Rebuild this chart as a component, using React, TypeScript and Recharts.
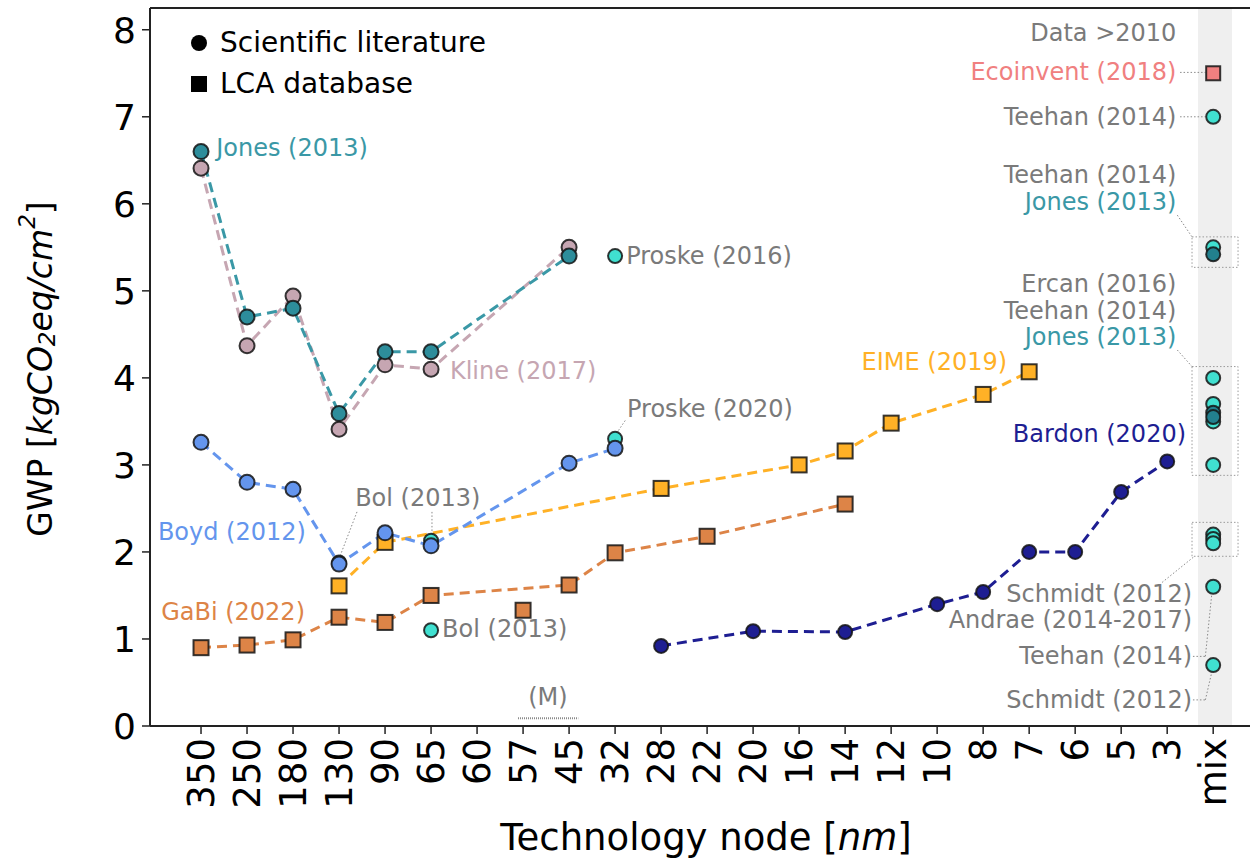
import React from "react";
import {
  ComposedChart,
  Line,
  Scatter,
  XAxis,
  YAxis,
  ReferenceArea,
  ReferenceLine,
  ReferenceDot,
} from "recharts";

const nodes = ["350", "250", "180", "130", "90", "65", "60", "57", "45", "32", "28", "22", "20", "16", "14", "12", "10", "8", "7", "6", "5", "3", "mix"];
const yTicks = [0, 1, 2, 3, 4, 5, 6, 7, 8];

const jonesNodes = ["350", "250", "180", "130", "90", "65", "45"];
const jonesValues = [6.6, 4.7, 4.8, 3.59, 4.3, 4.3, 5.4];
const klineNodes = ["350", "250", "180", "130", "90", "65", "45"];
const klineValues = [6.41, 4.37, 4.94, 3.41, 4.15, 4.1, 5.5];
const boydNodes = ["350", "250", "180", "130", "90", "65", "45", "32"];
const boydValues = [3.26, 2.8, 2.72, 1.86, 2.22, 2.07, 3.02, 3.19];
const eimeNodes = ["130", "90", "28", "16", "14", "12", "8", "7"];
const eimeValues = [1.61, 2.11, 2.73, 3.0, 3.16, 3.48, 3.81, 4.07];
const gabiNodes = ["350", "250", "180", "130", "90", "65", "45", "32", "22", "14"];
const gabiValues = [0.9, 0.93, 0.99, 1.25, 1.19, 1.5, 1.62, 1.99, 2.18, 2.55];
const gabiMNodes = ["57"];
const gabiMValues = [1.33];
const bardonNodes = ["28", "20", "14", "10", "8", "7", "6", "5", "3"];
const bardonValues = [0.92, 1.09, 1.08, 1.4, 1.54, 2.0, 2.0, 2.69, 3.04];
// single studies (Bol, Proske, Teehan, Schmidt, Ercan, Andrae ...)
const otherNodes = ["130", "65", "65", "32", "32", "mix", "mix", "mix", "mix", "mix", "mix", "mix", "mix", "mix", "mix", "mix"];
const otherValues = [1.88, 2.13, 1.1, 5.4, 3.3, 7.0, 5.5, 4.0, 3.7, 3.5, 3.0, 2.2, 2.15, 2.1, 1.6, 0.7];
const jonesMixNodes = ["mix", "mix", "mix"];
const jonesMixValues = [5.42, 3.6, 3.55];
const ecoinventNodes = ["mix"];
const ecoinventValues = [7.5];

const TURQ = "#40E0D0";
const GRAY = "#7a7a7a";
const JONES = "#3a98a6";
const KLINE = "#c6a6b2";
const BOYD = "#6495ED";
const EIME = "#ffb126";
const GABI = "#dd8447";
const BARDON = "#1e1e92";
const ECO = "#F08080";
const FONT = "DejaVu Sans, sans-serif";

const pts = (ns: string[], vs: number[]) => ns.map((n, i) => ({ x: nodes.indexOf(n), y: vs[i] }));

// annotation texts, anchored in data coordinates
const notes = [
  { x: 0.33, y: 6.64, text: "Jones (2013)", color: JONES, anchor: "start" },
  { x: 5.41, y: 4.08, text: "Kline (2017)", color: KLINE, anchor: "start" },
  { x: 9.24, y: 5.4, text: "Proske (2016)", color: GRAY, anchor: "start" },
  { x: 9.26, y: 3.64, text: "Proske (2020)", color: GRAY, anchor: "start" },
  { x: 2.28, y: 2.23, text: "Boyd (2012)", color: BOYD, anchor: "end" },
  { x: 3.35, y: 2.62, text: "Bol (2013)", color: GRAY, anchor: "start" },
  { x: 2.26, y: 1.31, text: "GaBi (2022)", color: GABI, anchor: "end" },
  { x: 5.24, y: 1.11, text: "Bol (2013)", color: GRAY, anchor: "start" },
  { x: 17.52, y: 4.18, text: "EIME (2019)", color: EIME, anchor: "end" },
  { x: 21.41, y: 3.35, text: "Bardon (2020)", color: BARDON, anchor: "end" },
  { x: 7.54, y: 0.33, text: "(M)", color: GRAY, anchor: "middle" },
  { x: 21.2, y: 7.96, text: "Data >2010", color: GRAY, anchor: "end" },
  { x: 21.2, y: 7.51, text: "Ecoinvent (2018)", color: ECO, anchor: "end" },
  { x: 21.2, y: 7.0, text: "Teehan (2014)", color: GRAY, anchor: "end" },
  { x: 21.2, y: 6.33, text: "Teehan (2014)", color: GRAY, anchor: "end" },
  { x: 21.2, y: 6.02, text: "Jones (2013)", color: JONES, anchor: "end" },
  { x: 21.2, y: 5.08, text: "Ercan (2016)", color: GRAY, anchor: "end" },
  { x: 21.2, y: 4.77, text: "Teehan (2014)", color: GRAY, anchor: "end" },
  { x: 21.2, y: 4.47, text: "Jones (2013)", color: JONES, anchor: "end" },
  { x: 21.54, y: 1.52, text: "Schmidt (2012)", color: GRAY, anchor: "end" },
  { x: 21.54, y: 1.22, text: "Andrae (2014-2017)", color: GRAY, anchor: "end" },
  { x: 21.54, y: 0.8, text: "Teehan (2014)", color: GRAY, anchor: "end" },
  { x: 21.54, y: 0.3, text: "Schmidt (2012)", color: GRAY, anchor: "end" },
];

const leaders = [
  [[21.28, 7.51], [21.83, 7.51]],
  [[21.28, 7.0], [21.83, 7.0]],
  [[21.22, 5.87], [21.54, 5.62]],
  [[21.22, 4.32], [21.54, 4.13]],
  [[20.89, 1.65], [21.57, 1.94]],
  [[21.56, 0.8], [21.83, 0.8]],
  [[21.83, 0.8], [21.97, 1.52]],
  [[21.56, 0.3], [21.83, 0.3]],
  [[21.83, 0.3], [21.97, 0.62]],
  [[9.22, 3.51], [9.04, 3.37]],
  [[3.39, 2.46], [3.02, 1.95]],
  [[5.02, 2.46], [5.02, 2.16]],
  [[6.89, 0.09], [8.2, 0.09]],
];

const boxes = [
  { x1: 21.54, x2: 22.54, y1: 5.27, y2: 5.62 },
  { x1: 21.54, x2: 22.54, y1: 2.88, y2: 4.13 },
  { x1: 21.54, x2: 22.54, y1: 1.95, y2: 2.34 },
];

const EDGE = "rgba(20,20,20,0.85)";
const DASH = "10 6";

const circleDot = (fill: string, r = 7.5) => (p: any) => (
  <circle key={`c-${p.index}`} cx={p.cx} cy={p.cy} r={r} fill={fill} stroke={EDGE} strokeWidth={2} />
);
const squareDot = (fill: string, s = 15) => (p: any) => (
  <rect key={`s-${p.index}`} x={p.cx - s / 2} y={p.cy - s / 2} width={s} height={s} fill={fill} stroke={EDGE} strokeWidth={2} />
);

function NodeTick({ x, y, payload }: any) {
  return (
    <text
      x={x}
      y={y}
      transform={`rotate(-90 ${x} ${y})`}
      textAnchor="end"
      dominantBaseline="central"
      fontSize={37}
      fontFamily={FONT}
      fill="#000"
    >
      {nodes[payload.value]}
    </text>
  );
}

function XTitle({ viewBox }: any) {
  const cx = viewBox.x + viewBox.width / 2 + 6;
  return (
    <text x={cx} y={viewBox.y + 111} textAnchor="middle" dominantBaseline="central" fontSize={37} fontFamily={FONT} fill="#000">
      Technology node [<tspan fontStyle="italic">nm</tspan>]
    </text>
  );
}

function YTitle({ viewBox }: any) {
  const cy = viewBox.y + viewBox.height / 2 + 2;
  const cx = 40;
  return (
    <text x={cx} y={cy} transform={`rotate(-90 ${cx} ${cy})`} textAnchor="middle" dominantBaseline="central" fontSize={33} fontFamily={FONT} fill="#000">
      GWP [<tspan fontStyle="italic">kgCO</tspan>
      <tspan fontSize={23} dy={7} fontStyle="italic">2</tspan>
      <tspan dy={-7} fontStyle="italic">eq/cm</tspan>
      <tspan fontSize={23} dy={-13} fontStyle="italic">2</tspan>
      <tspan dy={13}>]</tspan>
    </text>
  );
}

function LegendBox() {
  return (
    <div style={{ position: "absolute", left: 188, top: 22, fontFamily: FONT, fontSize: 28, color: "#000", lineHeight: "41px" }}>
      <div style={{ display: "flex", alignItems: "center" }}>
        <svg width={24} height={24} style={{ marginRight: 8 }}>
          <circle cx={11} cy={12} r={8} fill="#000" />
        </svg>
        Scientific literature
      </div>
      <div style={{ display: "flex", alignItems: "center" }}>
        <svg width={24} height={24} style={{ marginRight: 8 }}>
          <rect x={3} y={4} width={16} height={16} fill="#000" />
        </svg>
        LCA database
      </div>
    </div>
  );
}

export default function App() {
  return (
    <div style={{ position: "absolute", left: 0, top: 0, width: 1250, height: 858, background: "#fff" }}>
      <ComposedChart width={1250} height={858} margin={{ top: 8, right: 0, bottom: 0, left: 0 }}>
        <ReferenceArea x1={21.67} x2={22.41} y1={0} y2={8.25} fill="#efefef" fillOpacity={1} stroke="none" />
        <XAxis
          dataKey="x"
          type="number"
          domain={[-1.109, 22.8]}
          ticks={nodes.map((_, i) => i)}
          allowDataOverflow
          height={132}
          tickSize={8}
          tickMargin={4}
          tick={<NodeTick />}
          tickLine={{ stroke: "#222", strokeWidth: 1.5 }}
          axisLine={{ stroke: "#222", strokeWidth: 2 }}
          label={<XTitle />}
        />
        <YAxis
          dataKey="y"
          type="number"
          domain={[0, 8.25]}
          ticks={yTicks}
          allowDataOverflow
          width={150}
          tickSize={8}
          tickMargin={6}
          tick={{ fontSize: 36, fontFamily: FONT, fill: "#000" }}
          tickLine={{ stroke: "#222", strokeWidth: 1.5 }}
          axisLine={{ stroke: "#222", strokeWidth: 2 }}
          label={<YTitle />}
        />
        <ReferenceLine y={8.25} stroke="#222" strokeWidth={2} ifOverflow="visible" />
        {boxes.map((b, i) => (
          <ReferenceArea key={`b${i}`} {...b} fill="none" stroke="#9a9a9a" strokeDasharray="1.5 2" strokeWidth={1} />
        ))}
        {leaders.map((s, i) => (
          <ReferenceLine
            key={`l${i}`}
            segment={[{ x: s[0][0], y: s[0][1] }, { x: s[1][0], y: s[1][1] }]}
            stroke="#8a8a8a"
            strokeDasharray={i === leaders.length - 1 ? "1 1" : "1.5 2"}
            strokeWidth={i === leaders.length - 1 ? 2 : 1}
          />
        ))}
        <Line data={pts(klineNodes, klineValues)} dataKey="y" stroke={KLINE} strokeWidth={3} strokeDasharray={DASH} dot={circleDot(KLINE)} activeDot={false} isAnimationActive={false} />
        <Line data={pts(jonesNodes, jonesValues)} dataKey="y" stroke={JONES} strokeWidth={3} strokeDasharray={DASH} dot={circleDot("#2d8d9b")} activeDot={false} isAnimationActive={false} />
        <Scatter data={pts(otherNodes, otherValues)} dataKey="y" shape={circleDot(TURQ, 7)} isAnimationActive={false} />
        <Scatter data={pts(jonesMixNodes, jonesMixValues)} dataKey="y" shape={circleDot("#22808e", 7)} isAnimationActive={false} />
        <Line data={pts(gabiNodes, gabiValues)} dataKey="y" stroke={GABI} strokeWidth={3} strokeDasharray={DASH} dot={squareDot(GABI)} activeDot={false} isAnimationActive={false} />
        <Scatter data={pts(gabiMNodes, gabiMValues)} dataKey="y" shape={squareDot(GABI)} isAnimationActive={false} />
        <Line data={pts(eimeNodes, eimeValues)} dataKey="y" stroke={EIME} strokeWidth={3} strokeDasharray={DASH} dot={squareDot(EIME)} activeDot={false} isAnimationActive={false} />
        <Line data={pts(boydNodes, boydValues)} dataKey="y" stroke={BOYD} strokeWidth={3} strokeDasharray={DASH} dot={circleDot(BOYD)} activeDot={false} isAnimationActive={false} />
        <Line data={pts(bardonNodes, bardonValues)} dataKey="y" stroke={BARDON} strokeWidth={3} strokeDasharray={DASH} dot={circleDot(BARDON, 7)} activeDot={false} isAnimationActive={false} />
        <Scatter data={pts(ecoinventNodes, ecoinventValues)} dataKey="y" shape={squareDot(ECO, 14)} isAnimationActive={false} />
        {notes.map((n, i) => (
          <ReferenceDot
            key={`n${i}`}
            x={n.x}
            y={n.y}
            r={0}
            shape={(p: any) => (
              <text x={p.cx} y={p.cy} textAnchor={n.anchor as any} dominantBaseline="central" fontSize={24} fontFamily={FONT} fill={n.color}>
                {n.text}
              </text>
            )}
          />
        ))}
      </ComposedChart>
      <LegendBox />
    </div>
  );
}
